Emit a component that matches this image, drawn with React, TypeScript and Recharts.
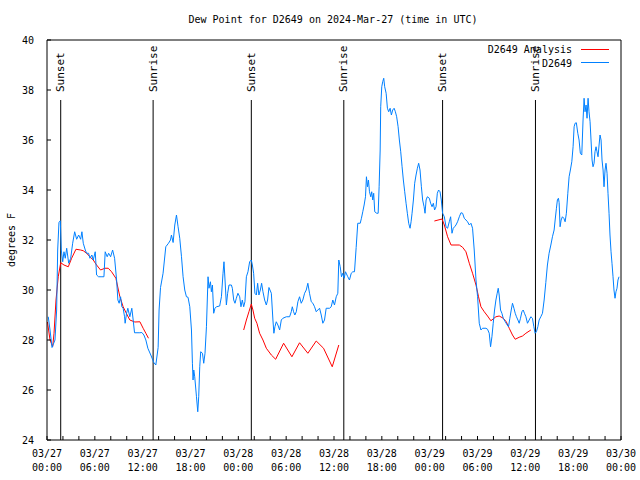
import React from "react";
import { LineChart, Line, XAxis, YAxis, ReferenceLine } from "recharts";

const FONT = "'DejaVu Sans Mono', monospace";

// hours since 2024-03-27 00:00 UTC
const xTicks = [0, 2, 4, 6, 8, 10, 12, 14, 16, 18, 20, 22, 24, 26, 28, 30, 32, 34, 36, 38, 40, 42, 44, 46, 48, 50, 52, 54, 56, 58, 60, 62, 64, 66, 68, 70, 72];
const xLabelHours = [0, 6, 12, 18, 24, 30, 36, 42, 48, 54, 60, 66, 72];
const xLabelDates = ["03/27", "03/27", "03/27", "03/27", "03/28", "03/28", "03/28", "03/28", "03/29", "03/29", "03/29", "03/29", "03/30"];
const xLabelTimes = ["00:00", "06:00", "12:00", "18:00", "00:00", "06:00", "12:00", "18:00", "00:00", "06:00", "12:00", "18:00", "00:00"];
const yTicks = [24, 26, 28, 30, 32, 34, 36, 38, 40];

const sunHours = [1.72, 13.31, 25.63, 37.23, 49.62, 61.27];
const sunNames = ["Sunset", "Sunrise", "Sunset", "Sunrise", "Sunset", "Sunrise"];

// D2649 observations
const blueTimes = [
  0.16, 0.38, 0.63, 1.0, 1.21, 1.34, 1.5, 1.67, 1.79, 1.97, 2.13, 2.29, 2.47, 2.72, 2.97, 3.22, 3.47, 3.72, 3.97, 4.22,
  4.38, 4.55, 4.8, 4.97, 5.22, 5.38, 5.63, 5.8, 6.05, 6.22, 6.47, 6.89, 7.14, 7.3, 7.55, 7.73, 7.98, 8.23, 8.48, 8.73,
  8.89, 9.05, 9.23, 9.39, 9.55, 9.73, 9.8, 9.98, 10.14, 10.39, 10.64, 10.81, 10.98, 11.65, 11.9, 12.15, 12.4, 12.65, 13.02, 13.4,
  13.65, 13.94, 14.06, 14.24, 14.56, 14.9, 15.24, 15.49, 15.61, 15.82, 16.03, 16.24, 16.44, 16.65, 16.87, 17.07, 17.28, 17.49, 17.69, 17.91,
  18.12, 18.24, 18.32, 18.41, 18.53, 18.75, 18.91, 19.03, 19.16, 19.28, 19.5, 19.66, 19.82, 20.0, 20.2, 20.32, 20.5, 20.62, 20.75, 20.91,
  21.07, 21.25, 21.66, 21.88, 22.08, 22.2, 22.33, 22.5, 22.66, 22.83, 23.13, 23.25, 23.42, 23.58, 23.75, 23.95, 24.17, 24.33, 24.5, 24.67,
  24.83, 25.01, 25.21, 25.42, 25.63, 25.76, 25.92, 26.08, 26.26, 26.42, 26.58, 26.76, 26.92, 27.09, 27.3, 27.51, 27.67, 27.84, 28.14, 28.34,
  28.46, 28.59, 28.76, 28.96, 29.18, 29.39, 29.59, 30.02, 30.43, 30.64, 30.77, 30.93, 31.09, 31.27, 31.47, 31.68, 31.89, 32.09, 32.31, 32.52,
  32.72, 32.93, 33.15, 33.35, 33.56, 33.77, 33.97, 34.19, 34.4, 34.6, 34.81, 35.02, 35.44, 35.65, 35.85, 36.06, 36.28, 36.48, 36.6, 36.78,
  36.94, 37.1, 37.28, 37.44, 37.73, 37.94, 38.16, 38.36, 38.57, 38.78, 38.98, 39.29, 39.44, 39.61, 39.78, 39.95, 40.07, 40.2, 40.32, 40.45,
  40.61, 40.73, 40.86, 40.98, 41.11, 41.36, 41.54, 41.66, 41.79, 41.86, 41.99, 42.11, 42.24, 42.36, 42.54, 42.7, 42.86, 43.04, 43.2, 43.36,
  43.54, 43.7, 43.86, 44.04, 44.2, 44.37, 44.54, 44.7, 44.87, 45.04, 45.2, 45.37, 45.54, 45.67, 45.79, 45.96, 46.12, 46.29, 46.46, 46.62,
  46.79, 46.96, 47.12, 47.3, 47.42, 47.55, 47.71, 47.96, 48.12, 48.3, 48.46, 48.62, 48.8, 48.96, 49.12, 49.3, 49.46, 49.62, 49.84, 50.05,
  50.25, 50.46, 50.63, 50.8, 50.96, 51.13, 51.3, 51.5, 51.72, 51.93, 52.13, 52.34, 52.55, 52.75, 52.97, 53.18, 53.38, 53.59, 53.81, 54.01,
  54.22, 54.43, 54.63, 55.06, 55.26, 55.47, 55.64, 55.81, 55.97, 56.14, 56.31, 56.47, 56.6, 56.72, 56.89, 57.06, 57.23, 57.48, 57.73, 57.89,
  58.06, 58.23, 58.39, 58.57, 58.73, 58.89, 59.07, 59.23, 59.39, 59.57, 59.73, 59.89, 60.07, 60.27, 60.48, 60.69, 60.89, 61.07, 61.23, 61.39,
  61.57, 61.73, 61.94, 62.15, 62.36, 62.57, 62.77, 62.98, 63.2, 63.4, 63.61, 63.74, 63.9, 64.02, 64.15, 64.24, 64.36, 64.49, 64.65, 64.83,
  64.99, 65.15, 65.33, 65.49, 65.65, 65.83, 65.99, 66.12, 66.24, 66.4, 66.58, 66.74, 66.9, 67.08, 67.24, 67.37, 67.49, 67.62, 67.74, 67.87,
  67.99, 68.12, 68.24, 68.37, 68.49, 68.62, 68.74, 68.87, 68.99, 69.12, 69.25, 69.37, 69.5, 69.62, 69.75, 69.87, 70.0, 70.12, 70.25, 70.37,
  70.5, 70.62, 70.75, 70.87, 71.0, 71.12, 71.25, 71.37, 71.5, 71.62, 71.75,
];
const blueValues = [
  28.93, 28.4, 27.7, 28.0, 29.2, 31.6, 32.7, 32.77, 31.6, 31.13, 31.53, 31.27, 31.67, 31.07, 31.27, 31.87, 32.33, 32.03, 32.2, 32.03,
  32.33, 31.87, 31.6, 31.47, 31.47, 31.27, 31.4, 31.2, 31.53, 30.6, 30.53, 30.53, 30.53, 31.53, 31.33, 31.47, 31.33, 31.6, 31.27, 30.4,
  29.6, 29.47, 29.73, 29.33, 29.27, 28.93, 28.67, 29.07, 29.27, 28.93, 29.27, 28.8, 28.29, 28.29, 28.3, 28.2, 28.0, 27.67, 27.4, 27.1,
  27.0, 27.7, 29.2, 30.1, 30.67, 31.73, 31.87, 32.0, 32.2, 31.9, 32.6, 33.0, 32.53, 32.07, 31.33, 30.53, 30.0, 29.73, 29.71, 29.33,
  28.4, 27.07, 26.4, 26.8, 26.53, 25.73, 25.13, 25.73, 26.93, 27.53, 27.47, 27.07, 27.47, 28.53, 30.53, 30.07, 30.33, 29.93, 30.2, 29.07,
  29.27, 29.33, 29.36, 29.73, 30.67, 31.13, 30.4, 29.4, 29.87, 30.2, 30.2, 30.07, 29.6, 29.47, 29.67, 29.87, 29.73, 29.33, 29.6, 29.33,
  29.53, 30.53, 30.73, 31.13, 31.2, 31.0, 30.67, 29.87, 29.8, 30.27, 29.8, 30.0, 30.27, 29.93, 29.6, 29.4, 29.6, 30.1, 29.87, 28.8,
  28.27, 28.53, 28.73, 28.6, 28.4, 28.8, 28.87, 28.93, 28.93, 29.13, 29.33, 29.13, 29.0, 29.13, 29.53, 29.73, 29.47, 29.6, 29.87, 30.0,
  30.27, 29.87, 29.53, 29.47, 29.33, 29.13, 29.2, 29.27, 29.0, 28.67, 28.8, 29.27, 29.27, 29.33, 29.6, 29.4, 29.73, 29.87, 31.2, 30.93,
  30.53, 30.67, 30.47, 30.73, 30.53, 30.4, 30.67, 30.73, 30.73, 31.7, 32.67, 32.67, 32.87, 33.13, 33.4, 33.73, 34.53, 34.13, 34.4, 33.93,
  33.73, 33.93, 33.6, 33.87, 33.13, 33.07, 33.07, 34.13, 35.6, 37.33, 38.13, 38.33, 38.47, 38.13, 37.87, 37.27, 37.13, 37.27, 37.0, 37.2,
  37.27, 37.13, 36.93, 36.53, 36.0, 35.53, 34.93, 34.4, 33.93, 33.47, 33.07, 32.67, 32.47, 32.73, 33.07, 33.6, 34.27, 34.6, 34.87, 35.07,
  34.8, 34.13, 33.6, 33.33, 33.07, 33.6, 33.73, 33.67, 33.47, 33.33, 33.47, 33.2, 33.33, 33.87, 34.0, 33.93, 33.6, 33.07, 32.93, 32.53,
  32.47, 32.73, 32.93, 32.27, 32.47, 32.53, 32.6, 32.73, 32.93, 33.09, 33.07, 32.87, 32.8, 32.73, 32.6, 32.67, 32.47, 31.6, 30.4, 29.73,
  28.67, 28.4, 28.47, 28.47, 28.43, 28.27, 27.73, 28.13, 28.67, 29.2, 29.6, 29.87, 30.07, 29.8, 29.2, 29.07, 28.87, 28.73, 28.6, 28.53,
  28.87, 29.2, 29.47, 29.27, 29.07, 28.93, 28.8, 28.67, 28.87, 29.13, 29.2, 29.07, 28.93, 28.67, 28.8, 28.93, 28.87, 28.53, 28.27, 28.33,
  28.53, 28.8, 28.93, 29.07, 29.6, 30.3, 31.0, 31.47, 31.8, 32.13, 32.4, 32.8, 33.27, 33.6, 33.67, 33.5, 32.53, 32.8, 32.93, 32.87,
  32.73, 33.07, 33.87, 34.53, 34.8, 35.13, 35.73, 36.53, 36.67, 36.69, 36.27, 36.0, 35.47, 35.4, 36.8, 37.67, 37.13, 37.4, 36.87, 37.67,
  37.13, 36.73, 36.0, 35.2, 34.93, 35.07, 35.53, 35.73, 35.53, 35.33, 35.8, 36.2, 36.0, 35.2, 34.8, 34.13, 34.8, 35.07, 34.67, 33.87,
  33.07, 32.2, 31.53, 31.07, 30.53, 30.0, 29.67, 29.93, 30.07, 30.4, 30.53,
];

// D2649 Analysis (null = no analysis)
const redTimes = [
  0.06, 0.38, 0.71, 0.88, 1.13, 1.41, 1.72, 2.13, 2.67, 3.09, 3.63, 4.22, 4.55, 4.97, 5.38, 5.8, 6.22, 6.72, 7.26, 7.68,
  8.1, 8.64, 9.14, 9.55, 10.06, 10.39, 11.02, 11.65, 12.06, 12.4, 12.73,
  18.0,
  24.67, 25.01, 25.33, 25.63, 25.83, 26.05, 26.33, 26.67, 27.09, 27.51, 28.14, 28.68, 29.68, 30.72, 31.68, 32.72, 33.77, 34.69, 35.78, 36.6,
  42.0,
  48.59, 49.55, 49.84, 50.25, 50.68, 51.72, 52.13, 52.55, 52.97, 53.38, 53.81, 54.13, 54.43, 54.85, 55.26, 55.68, 56.31, 56.72, 57.23, 57.61,
  57.98, 58.39, 58.73, 59.23, 59.65, 60.07, 60.69,
];
const redValues = [
  28.72, 28.0, 27.73, 28.27, 29.6, 30.53, 31.09, 31.0, 30.93, 31.27, 31.63, 31.6, 31.57, 31.47, 31.33, 31.2, 31.0, 30.8, 30.87, 30.87,
  30.73, 30.47, 29.73, 29.33, 29.0, 28.8, 28.72, 28.73, 28.47, 28.27, 28.07,
  null,
  28.4, 28.8, 29.13, 29.44, 29.2, 28.87, 28.67, 28.27, 28.0, 27.67, 27.4, 27.23, 27.87, 27.33, 27.89, 27.47, 27.96, 27.67, 26.93, 27.8,
  null,
  32.76, 32.84, 32.6, 32.13, 31.8, 31.8, 31.71, 31.53, 31.07, 30.67, 30.2, 29.73, 29.33, 29.13, 28.96, 28.77, 28.93, 28.96, 28.87, 28.73,
  28.47, 28.2, 28.03, 28.11, 28.16, 28.27, 28.4,
];

const blueData = blueTimes.map((h, i) => ({ h, v: blueValues[i] }));
const redData = redTimes.map((h, i) => ({ h, v: redValues[i] }));

const BLUE = "#0080ff";
const RED = "#ff0000";

function XTick(props: any) {
  const { x, y, payload } = props;
  const i = xLabelHours.indexOf(payload.value);
  if (i < 0) return <g />;
  return (
    <text x={x} y={y} textAnchor="middle" fontFamily={FONT} fontSize={10} fill="#000">
      <tspan x={x} dy={17}>{xLabelDates[i]}</tspan>
      <tspan x={x} dy={14}>{xLabelTimes[i]}</tspan>
    </text>
  );
}

function sunLabel(name: string) {
  return (p: any) => {
    const vb = p.viewBox;
    const x = vb.x;
    const y = vb.y - 8;
    return (
      <text
        x={x}
        y={y}
        transform={`rotate(-90 ${x} ${y})`}
        textAnchor="start"
        dominantBaseline="central"
        fontFamily={FONT}
        fontSize={11}
        fill="#000"
      >
        {name}
      </text>
    );
  };
}

function yLabel(p: any) {
  const vb = p.viewBox;
  const x = vb.x + 11;
  const y = vb.y + vb.height / 2;
  return (
    <text x={x} y={y} transform={`rotate(-90 ${x} ${y})`} textAnchor="middle" dominantBaseline="central" fontFamily={FONT} fontSize={10} fill="#000">
      degrees F
    </text>
  );
}

export default function App() {
  return (
    <div style={{ position: "relative", width: 640, height: 480, background: "#fff" }}>
      <style>{"body{margin:0}"}</style>
      <LineChart width={640} height={480} margin={{ top: 0, right: 0, bottom: 0, left: 0 }}>
        <XAxis
          xAxisId="b"
          type="number"
          dataKey="h"
          domain={[0, 72]}
          ticks={xTicks}
          interval={0}
          height={40}
          tickSize={-4}
          tickMargin={4}
          stroke="#000"
          tick={<XTick />}
        />
        <XAxis
          xAxisId="t"
          orientation="top"
          type="number"
          dataKey="h"
          domain={[0, 72]}
          ticks={xTicks}
          interval={0}
          height={40}
          tickSize={-4}
          stroke="#000"
          tick={false}
        />
        <YAxis
          yAxisId="l"
          domain={[24, 40]}
          ticks={yTicks}
          interval={0}
          width={47}
          tickSize={-4}
          tickMargin={17}
          stroke="#000"
          tick={{ fontFamily: FONT, fontSize: 10, fill: "#000" }}
          label={yLabel}
        />
        <YAxis
          yAxisId="r"
          orientation="right"
          domain={[24, 40]}
          ticks={yTicks}
          interval={0}
          width={19}
          tickSize={-4}
          stroke="#000"
          tick={false}
        />
        {sunHours.map((h, i) => (
          <ReferenceLine
            key={i}
            xAxisId="b"
            yAxisId="l"
            segment={[
              { x: h, y: 24 },
              { x: h, y: 37.6 },
            ]}
            stroke="#000"
            strokeWidth={1}
            label={sunLabel(sunNames[i])}
          />
        ))}
        <Line
          xAxisId="b"
          yAxisId="l"
          data={redData}
          dataKey="v"
          type="linear"
          stroke={RED}
          strokeWidth={1}
          dot={false}
          isAnimationActive={false}
        />
        <Line
          xAxisId="b"
          yAxisId="l"
          data={blueData}
          dataKey="v"
          type="linear"
          stroke={BLUE}
          strokeWidth={1}
          dot={false}
          isAnimationActive={false}
        />
      </LineChart>
      <svg width={640} height={480} style={{ position: "absolute", left: 0, top: 0, pointerEvents: "none" }}>
        <text x={333} y={23} textAnchor="middle" fontFamily={FONT} fontSize={10} fill="#000">
          Dew Point for D2649 on 2024-Mar-27 (time in UTC)
        </text>
        <text x={572} y={53} textAnchor="end" fontFamily={FONT} fontSize={10} fill="#000">
          D2649 Analysis
        </text>
        <line x1={581} x2={609} y1={49.5} y2={49.5} stroke={RED} strokeWidth={1} />
        <text x={572} y={66.5} textAnchor="end" fontFamily={FONT} fontSize={10} fill="#000">
          D2649
        </text>
        <line x1={581} x2={609} y1={62.5} y2={62.5} stroke={BLUE} strokeWidth={1} />
      </svg>
    </div>
  );
}
